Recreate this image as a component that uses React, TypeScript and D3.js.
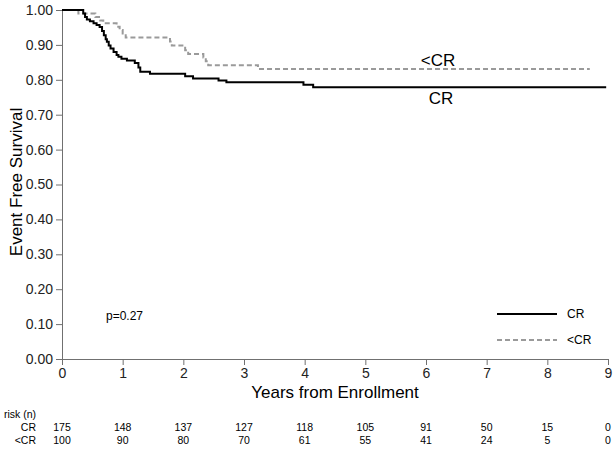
import React, { useEffect, useRef } from 'react';
import * as d3 from 'd3';

// Kaplan-Meier steps (years, survival)
const crTimes = [0, 0.35, 0.38, 0.41, 0.46, 0.52, 0.57, 0.62, 0.66, 0.69, 0.72, 0.74, 0.77, 0.8, 0.85, 0.9, 0.93, 0.98, 1.07, 1.2, 1.26, 1.29, 1.45, 2.03, 2.16, 2.58, 2.71, 3.98, 4.14, 8.97];
const crSurv = [1, 0.99, 0.98, 0.973, 0.968, 0.962, 0.957, 0.951, 0.94, 0.928, 0.916, 0.909, 0.898, 0.89, 0.88, 0.871, 0.866, 0.86, 0.855, 0.848, 0.835, 0.823, 0.817, 0.81, 0.804, 0.798, 0.793, 0.786, 0.779, 0.779];

const ltcrTimes = [0, 0.27, 0.55, 0.63, 0.68, 0.9, 0.95, 1.0, 1.05, 1.78, 1.81, 2.03, 2.08, 2.33, 2.37, 2.41, 3.23, 8.7];
const ltcrSurv = [1, 0.99, 0.98, 0.97, 0.962, 0.952, 0.943, 0.933, 0.921, 0.91, 0.898, 0.885, 0.874, 0.864, 0.853, 0.842, 0.831, 0.831];

const xTicks = [0, 1, 2, 3, 4, 5, 6, 7, 8, 9];
const yTicks = [0, 0.1, 0.2, 0.3, 0.4, 0.5, 0.6, 0.7, 0.8, 0.9, 1.0];

const crRisk = [175, 148, 137, 127, 118, 105, 91, 50, 15, 0];
const ltcrRisk = [100, 90, 80, 70, 61, 55, 41, 24, 5, 0];

const FONT = 'Liberation Sans, Arial, sans-serif';

export default function App() {
    const svgRef = useRef<SVGSVGElement>(null);

    useEffect(() => {
        document.body.style.margin = '0';
        if (!svgRef.current) return;
        const width = 616;
        const height = 449;

        const svg = d3.select(svgRef.current)
            .attr('width', width)
            .attr('height', height);
        svg.selectAll('*').remove();

        const x = d3.scaleLinear().domain([0, 9]).range([62, 608]);
        const y = d3.scaleLinear().domain([0, 1]).range([359, 10]);
        const axisColor = '#707070';

        // Axes
        const yAxis = svg.append('g')
            .attr('transform', `translate(${x(0)},0)`)
            .call(d3.axisLeft(y).tickValues(yTicks).tickSize(6).tickPadding(3).tickFormat(d3.format('.2f')));
        yAxis.selectAll('text').attr('fill', '#222').attr('font-size', '14px').attr('font-family', FONT);
        yAxis.selectAll('line, path').attr('stroke', axisColor);

        const xAxis = svg.append('g')
            .attr('transform', `translate(0,${y(0)})`)
            .call(d3.axisBottom(x).tickValues(xTicks).tickSize(6).tickPadding(3).tickFormat(d3.format('d')));
        xAxis.selectAll('text').attr('fill', '#222').attr('font-size', '14px').attr('font-family', FONT);
        xAxis.selectAll('line, path').attr('stroke', axisColor);

        // Curves
        const line = d3.line<[number, number]>()
            .x(d => x(d[0]))
            .y(d => y(d[1]))
            .curve(d3.curveStepAfter);

        const crData = crTimes.map((t, i) => [t, crSurv[i]] as [number, number]);
        const ltcrData = ltcrTimes.map((t, i) => [t, ltcrSurv[i]] as [number, number]);

        svg.append('path')
            .attr('d', line(ltcrData))
            .attr('fill', 'none')
            .attr('stroke', '#9a9a9a')
            .attr('stroke-width', 2)
            .attr('stroke-dasharray', '5,3');

        svg.append('path')
            .attr('d', line(crData))
            .attr('fill', 'none')
            .attr('stroke', '#000')
            .attr('stroke-width', 2);

        // Curve labels
        svg.append('text')
            .attr('x', 438).attr('y', 66)
            .attr('text-anchor', 'middle')
            .attr('font-size', '17px').attr('font-family', FONT)
            .text('<CR');
        svg.append('text')
            .attr('x', 441).attr('y', 104)
            .attr('text-anchor', 'middle')
            .attr('font-size', '17px').attr('font-family', FONT)
            .text('CR');

        // Axis titles
        svg.append('text')
            .attr('transform', `translate(22,182) rotate(-90)`)
            .attr('text-anchor', 'middle')
            .attr('font-size', '17px').attr('font-family', FONT)
            .text('Event Free Survival');
        svg.append('text')
            .attr('x', x(4.5)).attr('y', 398)
            .attr('text-anchor', 'middle')
            .attr('font-size', '17px').attr('font-family', FONT)
            .text('Years from Enrollment');

        // p-value
        svg.append('text')
            .attr('x', 106).attr('y', 320)
            .attr('font-size', '12px').attr('font-family', FONT)
            .text('p=0.27');

        // Legend
        const legend = [
            { label: 'CR', color: '#000', dash: null, yy: 314 },
            { label: '<CR', color: '#9a9a9a', dash: '5,3', yy: 340 },
        ];
        legend.forEach(l => {
            svg.append('line')
                .attr('x1', 497).attr('x2', 557)
                .attr('y1', l.yy).attr('y2', l.yy)
                .attr('stroke', l.color).attr('stroke-width', 2)
                .attr('stroke-dasharray', l.dash);
            svg.append('text')
                .attr('x', 567).attr('y', l.yy + 4)
                .attr('font-size', '12px').attr('font-family', FONT)
                .text(l.label);
        });

        // Risk table
        svg.append('text')
            .attr('x', 4).attr('y', 418)
            .attr('font-size', '10.5px').attr('font-family', FONT)
            .text('risk (n)');
        const rows = [
            { name: 'CR', values: crRisk, yy: 431 },
            { name: '<CR', values: ltcrRisk, yy: 444 },
        ];
        rows.forEach(r => {
            svg.append('text')
                .attr('x', 36).attr('y', r.yy)
                .attr('text-anchor', 'end')
                .attr('font-size', '10.5px').attr('font-family', FONT)
                .text(r.name);
            svg.selectAll(null)
                .data(r.values)
                .enter()
                .append('text')
                .attr('x', (_, i) => x(xTicks[i]))
                .attr('y', r.yy)
                .attr('text-anchor', 'middle')
                .attr('font-size', '10.5px').attr('font-family', FONT)
                .text(d => d);
        });
    }, []);

    return <svg ref={svgRef} style={{ display: 'block' }} />;
}
